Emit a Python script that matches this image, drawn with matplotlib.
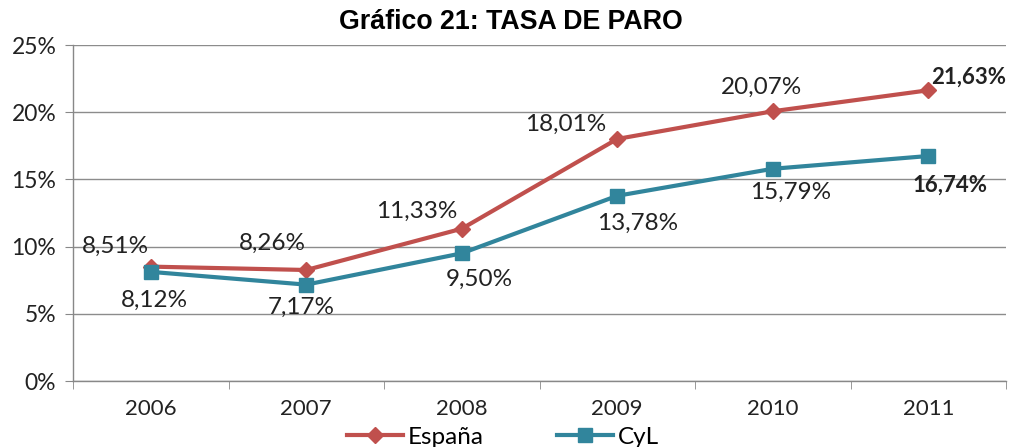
import matplotlib
matplotlib.use("Agg")
import matplotlib.pyplot as plt

years = ["2006", "2007", "2008", "2009", "2010", "2011"]
espana = [8.51, 8.26, 11.33, 18.01, 20.07, 21.63]
cyl = [8.12, 7.17, 9.50, 13.78, 15.79, 16.74]
espana_labels = ["8,51%", "8,26%", "11,33%", "18,01%", "20,07%", "21,63%"]
cyl_labels = ["8,12%", "7,17%", "9,50%", "13,78%", "15,79%", "16,74%"]
yticks = [0, 5, 10, 15, 20, 25]

RED = "#C0504D"
TEAL = "#31859C"
FONT = "Lato"

fig = plt.figure(figsize=(10.16, 4.47), dpi=100)
ax = fig.add_axes([73/1016, 1-381/447, (1006-73)/1016, (381-45)/447])

x = list(range(len(years)))
ax.plot(x, espana, color=RED, lw=3, marker="D", ms=8, label="España", zorder=3)
ax.plot(x, cyl, color=TEAL, lw=3, marker="s", ms=10, label="CyL", zorder=3)

ax.set_xlim(-0.5, len(years) - 0.5)
ax.set_ylim(0, 25)
ax.set_yticks(yticks)
ax.set_yticklabels([f"{v}%" for v in yticks], fontsize=16.5, family=FONT, color="#222222")
ax.set_xticks(x)
ax.set_xticklabels(years, fontsize=16, family=FONT, color="#222222")
ax.tick_params(axis="x", length=0, pad=13)
ax.set_xticks([i - 0.5 for i in range(len(years) + 1)], minor=True)
ax.tick_params(axis="x", which="minor", length=6, color="#888888", direction="out")
ax.tick_params(axis="y", length=6, color="#888888", direction="out", pad=6)

ax.yaxis.grid(True, color="#8c8c8c", lw=1)
ax.set_axisbelow(True)
for s in ["top", "right"]:
    ax.spines[s].set_visible(False)
for s in ["left", "bottom"]:
    ax.spines[s].set_color("#888888")
    ax.spines[s].set_linewidth(1)

esp_off = [(-35, 20), (-34, 27), (-45, 17), (-52, 15), (-11, 24), (40, 13)]
cyl_off = [(4, -28), (-5, -23), (18, -26), (20, -28), (18, -24), (22, -29)]
for i in x:
    last = i == len(x) - 1
    ax.annotate(espana_labels[i], (i, espana[i]), xytext=esp_off[i], textcoords="offset pixels",
                ha="center", va="center", fontsize=16 if last else 17.5, family=FONT,
                color="#222222", fontweight="bold" if last else "normal")
    ax.annotate(cyl_labels[i], (i, cyl[i]), xytext=cyl_off[i], textcoords="offset pixels",
                ha="center", va="center", fontsize=16 if last else 17.5, family=FONT,
                color="#222222", fontweight="bold" if last else "normal")

fig.text(511/1016, 1-22/447, "Gráfico 21: TASA DE PARO", ha="center", va="center",
         fontsize=19.3, fontweight="bold", family="Liberation Sans")

leg = fig.legend(loc="center", bbox_to_anchor=(503/1016, 1-437/447), ncol=2, frameon=False,
                 prop={"family": FONT, "size": 17.5}, handlelength=2.3, columnspacing=3.0,
                 handletextpad=0.2, borderaxespad=0)

fig.savefig("out.png", dpi=100)
